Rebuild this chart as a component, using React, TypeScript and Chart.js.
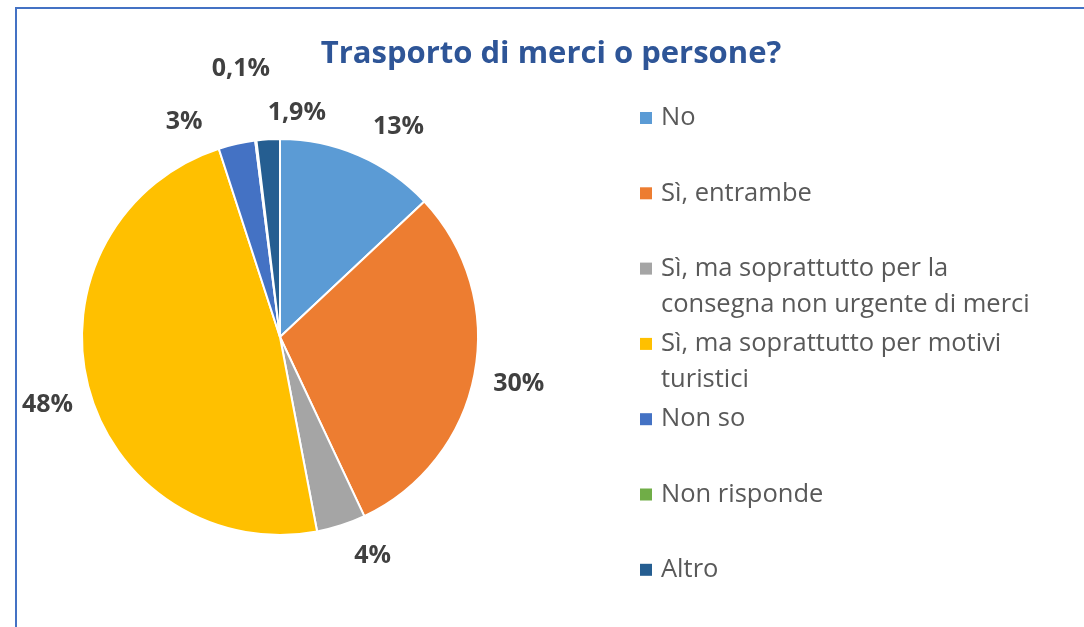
import React, { useEffect, useRef } from "react";
import { Chart, registerables } from "chart.js";

Chart.register(...registerables);

const TITLE = "Trasporto di merci o persone?";
const categories = [
  "No",
  "Sì, entrambe",
  "Sì, ma soprattutto per la consegna non urgente di merci",
  "Sì, ma soprattutto per motivi turistici",
  "Non so",
  "Non risponde",
  "Altro",
];
const shares = [13, 30, 4, 48, 3, 0.1, 1.9];
const sliceColors = ["#5B9BD5", "#ED7D31", "#A5A5A5", "#FFC000", "#4472C4", "#70AD47", "#255E91"];
// label nudges (px) to mimic the original "best fit" placement
const labelNudges: [number, number][] = [
  [24, 8],
  [5, 2],
  [19, -7],
  [-2, 9],
  [-44, 17],
  [-10, -32],
  [31, 13],
];

const fmt = (v: number) => String(v).replace(".", ",") + "%";

const FONT = '"Open Sans", "Noto Sans", sans-serif';

function wrap(ctx: CanvasRenderingContext2D, text: string, maxW: number): string[] {
  const words = text.split(" ");
  const lines: string[] = [];
  let cur = "";
  for (const w of words) {
    const t = cur ? cur + " " + w : w;
    if (ctx.measureText(t).width > maxW && cur) {
      lines.push(cur);
      cur = w;
    } else cur = t;
  }
  if (cur) lines.push(cur);
  return lines;
}

const decorPlugin = {
  id: "decor",
  beforeDraw(chart: any) {
    const ctx = chart.ctx as CanvasRenderingContext2D;
    ctx.save();
    ctx.fillStyle = "#ffffff";
    ctx.fillRect(0, 0, chart.width, chart.height);
    ctx.strokeStyle = "#4472C4";
    ctx.lineWidth = 2;
    ctx.beginPath();
    ctx.moveTo(16, chart.height + 2);
    ctx.lineTo(16, 8);
    ctx.lineTo(chart.width + 2, 8);
    ctx.stroke();
    ctx.restore();
  },
  afterDatasetsDraw(chart: any) {
    const ctx = chart.ctx as CanvasRenderingContext2D;
    ctx.save();
    // title
    ctx.font = `bold 31px ${FONT}`;
    ctx.fillStyle = "#2E5597";
    ctx.textAlign = "center";
    ctx.textBaseline = "middle";
    ctx.fillText(TITLE, 551, 54);

    // data labels
    const meta = chart.getDatasetMeta(0);
    ctx.font = `bold 25px ${FONT}`;
    ctx.fillStyle = "#404040";
    meta.data.forEach((arc: any, i: number) => {
      const p = arc.getProps(["x", "y", "startAngle", "endAngle", "outerRadius"], true);
      const mid = (p.startAngle + p.endAngle) / 2;
      const r = p.outerRadius + 40;
      const n = labelNudges[i] || [0, 0];
      const lx = p.x + Math.cos(mid) * r + n[0];
      const ly = p.y + Math.sin(mid) * r + n[1];
      ctx.fillText(fmt(shares[i]), lx, ly);
    });

    // legend
    ctx.textAlign = "left";
    ctx.font = `25.5px ${FONT}`;
    categories.forEach((c, i) => {
      const y0 = 118 + i * 75.3;
      ctx.fillStyle = sliceColors[i];
      ctx.fillRect(640, y0 - 6, 12, 12);
      ctx.fillStyle = "#595959";
      const lines = wrap(ctx, c, 378);
      lines.forEach((ln, k) => ctx.fillText(ln, 661, y0 + k * 36));
    });
    ctx.restore();
  },
};

export default function App() {
  const ref = useRef<HTMLCanvasElement | null>(null);
  useEffect(() => {
    if (!ref.current) return;
    const chart = new Chart(ref.current, {
      type: "pie",
      data: {
        labels: categories,
        datasets: [
          {
            data: shares,
            backgroundColor: sliceColors,
            borderColor: "#ffffff",
            borderWidth: 2,
          },
        ],
      },
      options: {
        responsive: false,
        animation: false,
        layout: { padding: { left: 81, top: 138, right: 605, bottom: 91 } },
        plugins: {
          legend: { display: false },
          title: { display: false },
          tooltip: { enabled: false },
        },
      },
      plugins: [decorPlugin],
    });
    return () => chart.destroy();
  }, []);
  return (
    <div style={{ position: "fixed", left: 0, top: 0, width: 1084, height: 627, background: "#fff" }}>
      <canvas ref={ref} width={1084} height={627} style={{ width: 1084, height: 627, display: "block" }} />
    </div>
  );
}
